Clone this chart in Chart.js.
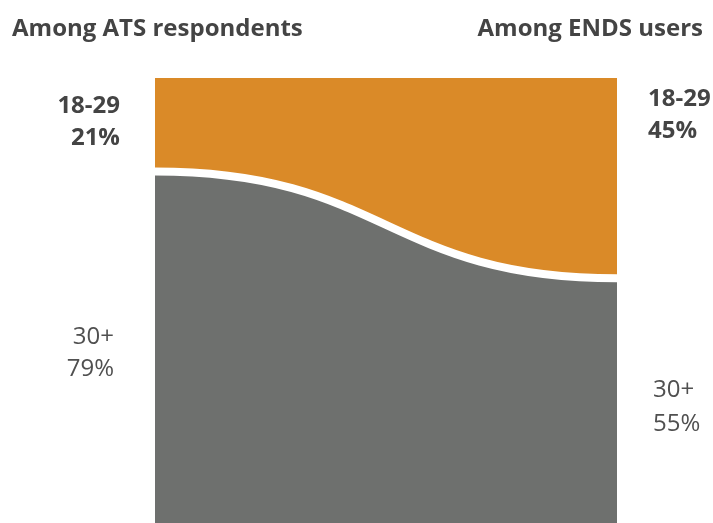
<!DOCTYPE html>
<html>
<head>
<meta charset="utf-8">
<script src="https://cdn.jsdelivr.net/npm/chart.js@4/dist/chart.umd.min.js"></script>
<style>
  body { margin: 0; background: #fff; font-family: "Open Sans", sans-serif; }
  .wrap { position: relative; width: 713px; height: 523px; overflow: hidden; }
  .lbl { position: absolute; font-size: 24px; line-height: 32px; color: #444; white-space: nowrap; }
  .b { font-weight: 700; }
  .r { font-weight: 400; color: #505050; }
</style>
</head>
<body>
<div class="wrap">
  <canvas id="chart-age" width="713" height="523"></canvas>
  <div class="lbl b" style="left:12px; top:11px;">Among ATS respondents</div>
  <div class="lbl b" style="right:10px; top:11px;">Among ENDS users</div>
  <div class="lbl b" style="right:593px; top:88px; text-align:right;">18-29<br>21%</div>
  <div class="lbl b" style="left:648px; top:81px;">18-29<br>45%</div>
  <div class="lbl r" style="right:599px; top:319px; text-align:right;">30+<br>79%</div>
  <div class="lbl r" style="left:653px; top:371px; line-height:34px;">30+<br>55%</div>
</div>
<script>
const groups = ["Among ATS respondents", "Among ENDS users"]
const older = [79, 55]     // 30+
const younger = [21, 45]   // 18-29

// smooth S-curve between the two columns: flat handles at the midpoint
const sCurve = {
  id: "sCurve",
  afterDatasetsUpdate(chart) {
    chart.data.datasets.forEach((ds, i) => {
      const meta = chart.getDatasetMeta(i)
      const [a, b] = meta.data
      const mid = (a.x + b.x) / 2
      a.cp1x = a.x; a.cp1y = a.y; a.cp2x = mid; a.cp2y = a.y
      b.cp1x = mid; b.cp1y = b.y; b.cp2x = b.x; b.cp2y = b.y
      meta.dataset._pointsUpdated = true
    })
  }
}

new Chart(document.getElementById("chart-age"), {
  type: "line",
  data: {
    labels: groups,
    datasets: [{
      label: "30+",
      data: older,
      backgroundColor: "#6e706e",
      borderColor: "#ffffff",
      borderWidth: 8,
      fill: "origin",
      tension: 0.4,
      pointRadius: 0
    }, {
      label: "18-29",
      data: younger,
      backgroundColor: "#da8a28",
      borderWidth: 0,
      fill: "-1",
      tension: 0.4,
      pointRadius: 0
    }]
  },
  options: {
    responsive: false,
    animation: false,
    devicePixelRatio: 1,
    layout: { padding: { left: 155, right: 96, top: 78, bottom: 0 } },
    scales: {
      x: { display: false, offset: false },
      y: { display: false, stacked: true, min: 0, max: 100 }
    },
    plugins: {
      legend: { display: false },
      tooltip: { enabled: false }
    }
  },
  plugins: [sCurve]
})
</script>
</body>
</html>
